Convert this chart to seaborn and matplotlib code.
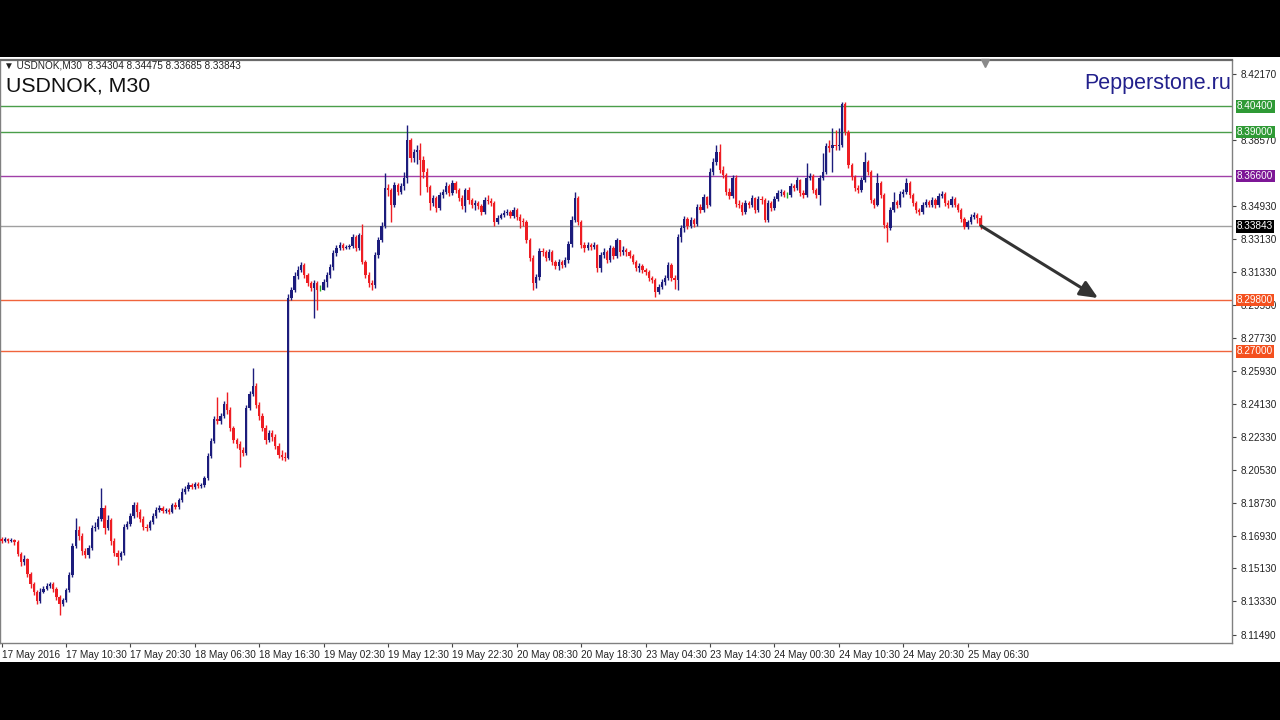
# USDNOK M30 candlestick chart, MetaTrader style
import numpy as np
import pandas as pd
import matplotlib.pyplot as plt
import seaborn as sns
from matplotlib.patches import Rectangle

# --- data ---
header = "\u25bc USDNOK,M30  8.34304 8.34475 8.33685 8.33843"
symbol = "USDNOK, M30"
brand = "Pepperstone.ru"

first_open = 8.1673
close = [
    8.1663, 8.1674, 8.1663, 8.1668, 8.1657, 8.1591, 8.1548, 8.1564, 8.1482, 8.1427,
    8.1384, 8.1335, 8.1384, 8.1400, 8.1416, 8.1427, 8.1400, 8.1357, 8.1318, 8.1340,
    8.1395, 8.1477, 8.1635, 8.1723, 8.1690, 8.1608, 8.1586, 8.1624, 8.1734, 8.1739,
    8.1783, 8.1843, 8.1734, 8.1778, 8.1663, 8.1597, 8.1575, 8.1597, 8.1739, 8.1756,
    8.1799, 8.1860, 8.1821, 8.1783, 8.1739, 8.1734, 8.1767, 8.1799, 8.1832, 8.1843,
    8.1827, 8.1832, 8.1821, 8.1860, 8.1849, 8.1887, 8.1931, 8.1947, 8.1969, 8.1958,
    8.1974, 8.1963, 8.1969, 8.2007, 8.2127, 8.2210, 8.2330, 8.2320, 8.2346, 8.2412,
    8.2379, 8.2281, 8.2215, 8.2193, 8.2160, 8.2144, 8.2390, 8.2467, 8.2510, 8.2407,
    8.2346, 8.2281, 8.2215, 8.2254, 8.2232, 8.2182, 8.2133, 8.2122, 8.2116, 8.2992,
    8.3036, 8.3112, 8.3145, 8.3172, 8.3117, 8.3074, 8.3046, 8.3074, 8.3036, 8.3036,
    8.3079, 8.3117, 8.3161, 8.3238, 8.3265, 8.3282, 8.3265, 8.3271, 8.3276, 8.3326,
    8.3265, 8.3336, 8.3189, 8.3117, 8.3074, 8.3063, 8.3227, 8.3309, 8.3386, 8.3594,
    8.3583, 8.3501, 8.3610, 8.3572, 8.3605, 8.3648, 8.3856, 8.3758, 8.3791, 8.3802,
    8.3747, 8.3681, 8.3599, 8.3512, 8.3539, 8.3484, 8.3555, 8.3572, 8.3605, 8.3566,
    8.3621, 8.3583, 8.3539, 8.3495, 8.3583, 8.3528, 8.3501, 8.3512, 8.3495, 8.3462,
    8.3528, 8.3523, 8.3512, 8.3408, 8.3430, 8.3446, 8.3457, 8.3462, 8.3440, 8.3473,
    8.3435, 8.3413, 8.3408, 8.3309, 8.3211, 8.3074, 8.3107, 8.3249, 8.3244, 8.3211,
    8.3244, 8.3189, 8.3167, 8.3189, 8.3172, 8.3200, 8.3287, 8.3419, 8.3539, 8.3408,
    8.3282, 8.3265, 8.3282, 8.3271, 8.3282, 8.3156, 8.3227, 8.3244, 8.3200, 8.3265,
    8.3222, 8.3309, 8.3244, 8.3255, 8.3244, 8.3222, 8.3189, 8.3156, 8.3167, 8.3145,
    8.3134, 8.3101, 8.3090, 8.3025, 8.3052, 8.3079, 8.3101, 8.3172, 8.3101, 8.3090,
    8.3326, 8.3375, 8.3424, 8.3386, 8.3419, 8.3397, 8.3490, 8.3473, 8.3544, 8.3501,
    8.3681, 8.3736, 8.3791, 8.3692, 8.3665, 8.3572, 8.3550, 8.3648, 8.3506, 8.3501,
    8.3462, 8.3512, 8.3501, 8.3539, 8.3473, 8.3534, 8.3528, 8.3419, 8.3512, 8.3484,
    8.3534, 8.3566, 8.3572, 8.3555, 8.3555, 8.3605, 8.3594, 8.3637, 8.3566, 8.3555,
    8.3648, 8.3659, 8.3583, 8.3555, 8.3648, 8.3681, 8.3823, 8.3812, 8.3829, 8.3823,
    8.3829, 8.4053, 8.3900, 8.3719, 8.3654, 8.3594, 8.3583, 8.3637, 8.3736, 8.3681,
    8.3528, 8.3501, 8.3621, 8.3555, 8.3391, 8.3375, 8.3473, 8.3517, 8.3501, 8.3561,
    8.3572, 8.3621, 8.3555, 8.3512, 8.3473, 8.3462, 8.3501, 8.3517, 8.3501, 8.3528,
    8.3501, 8.3550, 8.3561, 8.3512, 8.3501, 8.3534, 8.3501, 8.3473, 8.3424, 8.3380,
    8.3408, 8.3435, 8.3446, 8.34304, 8.33843,
]
high = [
    8.1685, 8.1685, 8.1679, 8.1679, 8.1674, 8.1668, 8.1602, 8.1586, 8.1569, 8.1493,
    8.1438, 8.1395, 8.1405, 8.1416, 8.1433, 8.1438, 8.1438, 8.1411, 8.1367, 8.1351,
    8.1405, 8.1493, 8.1652, 8.1788, 8.1745, 8.1707, 8.1624, 8.1641, 8.1750, 8.1767,
    8.1799, 8.1952, 8.1860, 8.1805, 8.1788, 8.1679, 8.1613, 8.1608, 8.1756, 8.1773,
    8.1816, 8.1876, 8.1876, 8.1838, 8.1799, 8.1756, 8.1778, 8.1816, 8.1849, 8.1860,
    8.1854, 8.1843, 8.1843, 8.1871, 8.1876, 8.1898, 8.1952, 8.1963, 8.1985, 8.1980,
    8.1985, 8.1985, 8.1980, 8.2018, 8.2144, 8.2226, 8.2346, 8.2451, 8.2363, 8.2429,
    8.2478, 8.2396, 8.2292, 8.2226, 8.2210, 8.2177, 8.2407, 8.2483, 8.2609, 8.2527,
    8.2423, 8.2363, 8.2297, 8.2270, 8.2270, 8.2248, 8.2199, 8.2160, 8.2149, 8.3014,
    8.3052, 8.3134, 8.3167, 8.3189, 8.3183, 8.3128, 8.3085, 8.3090, 8.3085, 8.3063,
    8.3096, 8.3134, 8.3178, 8.3255, 8.3282, 8.3298, 8.3293, 8.3282, 8.3287, 8.3342,
    8.3336, 8.3347, 8.3397, 8.3200, 8.3134, 8.3090, 8.3244, 8.3326, 8.3408, 8.3676,
    8.3616, 8.3594, 8.3626, 8.3621, 8.3621, 8.3681, 8.3938, 8.3867, 8.3807, 8.3829,
    8.3840, 8.3769, 8.3703, 8.3610, 8.3555, 8.3550, 8.3572, 8.3588, 8.3626, 8.3616,
    8.3637, 8.3632, 8.3594, 8.3555, 8.3594, 8.3599, 8.3539, 8.3528, 8.3523, 8.3506,
    8.3544, 8.3555, 8.3539, 8.3523, 8.3446, 8.3457, 8.3473, 8.3479, 8.3473, 8.3490,
    8.3484, 8.3451, 8.3430, 8.3419, 8.3320, 8.3227, 8.3123, 8.3265, 8.3265, 8.3255,
    8.3260, 8.3255, 8.3200, 8.3205, 8.3200, 8.3216, 8.3304, 8.3441, 8.3572, 8.3550,
    8.3419, 8.3298, 8.3298, 8.3293, 8.3298, 8.3287, 8.3244, 8.3265, 8.3255, 8.3282,
    8.3276, 8.3320, 8.3309, 8.3276, 8.3265, 8.3255, 8.3233, 8.3200, 8.3183, 8.3178,
    8.3156, 8.3145, 8.3112, 8.3101, 8.3068, 8.3096, 8.3117, 8.3189, 8.3183, 8.3117,
    8.3342, 8.3391, 8.3441, 8.3435, 8.3435, 8.3430, 8.3506, 8.3506, 8.3561, 8.3550,
    8.3703, 8.3758, 8.3829, 8.3834, 8.3714, 8.3676, 8.3594, 8.3665, 8.3665, 8.3528,
    8.3517, 8.3528, 8.3523, 8.3555, 8.3544, 8.3550, 8.3550, 8.3539, 8.3528, 8.3523,
    8.3550, 8.3583, 8.3588, 8.3583, 8.3572, 8.3621, 8.3616, 8.3654, 8.3643, 8.3583,
    8.3730, 8.3676, 8.3670, 8.3594, 8.3665, 8.3785, 8.3840, 8.3856, 8.3922, 8.3911,
    8.3922, 8.4064, 8.4064, 8.3911, 8.3730, 8.3665, 8.3610, 8.3654, 8.3791, 8.3747,
    8.3692, 8.3539, 8.3676, 8.3632, 8.3566, 8.3408, 8.3490, 8.3572, 8.3528, 8.3577,
    8.3588, 8.3648, 8.3632, 8.3566, 8.3523, 8.3484, 8.3517, 8.3534, 8.3528, 8.3544,
    8.3539, 8.3566, 8.3577, 8.3572, 8.3528, 8.3550, 8.3544, 8.3512, 8.3484, 8.3435,
    8.3419, 8.3451, 8.3462, 8.3457, 8.34475,
]
low = [
    8.1652, 8.1657, 8.1652, 8.1657, 8.1641, 8.1580, 8.1526, 8.1531, 8.1466, 8.1405,
    8.1367, 8.1318, 8.1324, 8.1378, 8.1395, 8.1405, 8.1384, 8.1340, 8.1258, 8.1307,
    8.1329, 8.1384, 8.1466, 8.1624, 8.1668, 8.1586, 8.1569, 8.1569, 8.1613, 8.1718,
    8.1729, 8.1773, 8.1701, 8.1723, 8.1641, 8.1580, 8.1531, 8.1559, 8.1586, 8.1729,
    8.1745, 8.1788, 8.1794, 8.1767, 8.1723, 8.1718, 8.1723, 8.1756, 8.1788, 8.1821,
    8.1816, 8.1816, 8.1810, 8.1816, 8.1838, 8.1838, 8.1876, 8.1920, 8.1937, 8.1947,
    8.1947, 8.1952, 8.1952, 8.1958, 8.1996, 8.2116, 8.2199, 8.2303, 8.2303, 8.2335,
    8.2357, 8.2265, 8.2199, 8.2171, 8.2068, 8.2127, 8.2133, 8.2379, 8.2456, 8.2390,
    8.2325, 8.2265, 8.2193, 8.2204, 8.2210, 8.2166, 8.2116, 8.2106, 8.2100, 8.2111,
    8.2981, 8.3025, 8.3096, 8.3134, 8.3101, 8.3057, 8.3030, 8.2883, 8.2926, 8.3030,
    8.3036, 8.3052, 8.3101, 8.3145, 8.3222, 8.3255, 8.3255, 8.3260, 8.3260, 8.3265,
    8.3249, 8.3255, 8.3178, 8.3101, 8.3052, 8.3036, 8.3046, 8.3211, 8.3298, 8.3375,
    8.3550, 8.3408, 8.3490, 8.3555, 8.3561, 8.3583, 8.3621, 8.3736, 8.3736, 8.3725,
    8.3555, 8.3648, 8.3572, 8.3473, 8.3495, 8.3462, 8.3473, 8.3539, 8.3561, 8.3550,
    8.3555, 8.3566, 8.3523, 8.3479, 8.3462, 8.3506, 8.3484, 8.3473, 8.3479, 8.3446,
    8.3451, 8.3506, 8.3495, 8.3386, 8.3397, 8.3424, 8.3435, 8.3446, 8.3430, 8.3430,
    8.3419, 8.3375, 8.3386, 8.3293, 8.3194, 8.3036, 8.3046, 8.3090, 8.3222, 8.3194,
    8.3200, 8.3172, 8.3150, 8.3145, 8.3156, 8.3161, 8.3183, 8.3271, 8.3408, 8.3391,
    8.3265, 8.3244, 8.3255, 8.3255, 8.3260, 8.3134, 8.3134, 8.3211, 8.3183, 8.3189,
    8.3205, 8.3211, 8.3222, 8.3227, 8.3222, 8.3211, 8.3178, 8.3139, 8.3134, 8.3128,
    8.3117, 8.3085, 8.3074, 8.2997, 8.3014, 8.3041, 8.3063, 8.3090, 8.3085, 8.3041,
    8.3036, 8.3298, 8.3353, 8.3369, 8.3375, 8.3380, 8.3386, 8.3457, 8.3462, 8.3484,
    8.3495, 8.3665, 8.3719, 8.3676, 8.3648, 8.3555, 8.3534, 8.3539, 8.3490, 8.3484,
    8.3446, 8.3451, 8.3484, 8.3490, 8.3457, 8.3462, 8.3506, 8.3408, 8.3408, 8.3468,
    8.3473, 8.3523, 8.3550, 8.3544, 8.3539, 8.3544, 8.3577, 8.3583, 8.3550, 8.3539,
    8.3544, 8.3637, 8.3566, 8.3539, 8.3501, 8.3637, 8.3670, 8.3791, 8.3681, 8.3802,
    8.3802, 8.3818, 8.3883, 8.3703, 8.3637, 8.3577, 8.3566, 8.3572, 8.3626, 8.3665,
    8.3512, 8.3484, 8.3495, 8.3539, 8.3375, 8.3298, 8.3364, 8.3462, 8.3484, 8.3490,
    8.3544, 8.3561, 8.3539, 8.3495, 8.3457, 8.3446, 8.3451, 8.3490, 8.3490, 8.3490,
    8.3484, 8.3490, 8.3539, 8.3495, 8.3484, 8.3490, 8.3490, 8.3462, 8.3408, 8.3369,
    8.3369, 8.3397, 8.3424, 8.3402, 8.33685,
]

time_labels = ["17 May 2016", "17 May 10:30", "17 May 20:30", "18 May 06:30",
               "18 May 16:30", "19 May 02:30", "19 May 12:30", "19 May 22:30",
               "20 May 08:30", "20 May 18:30", "23 May 04:30", "23 May 14:30",
               "24 May 00:30", "24 May 10:30", "24 May 20:30", "25 May 06:30"]
label_bars = [0, 20, 40, 60, 80, 100, 120, 140, 160, 180, 200, 220, 240, 260, 280, 300]

price_ticks = [8.42170, 8.38570, 8.34930, 8.33130, 8.31330, 8.29530, 8.27730,
               8.25930, 8.24130, 8.22330, 8.20530, 8.18730, 8.16930, 8.15130,
               8.13330, 8.11490]

levels = [8.40400, 8.39000, 8.36600, 8.29800, 8.27000]
level_line_colors = ["#4a9e4a", "#4a9e4a", "#a040a8", "#f0643c", "#f0643c"]
level_box_colors = ["#2f9a35", "#2f9a35", "#7d1696", "#f4501e", "#f4501e"]
last_price = 8.33843

arrow_start = (304.2, 8.3386)
arrow_end = (340.5, 8.2992)

# --- style ---
sns.set_theme(style="white")
plt.rcParams['font.family'] = ['Liberation Sans', 'DejaVu Sans']

df = pd.DataFrame({"close": close, "high": high, "low": low})
df["open"] = [first_open] + close[:-1]
df["bar"] = np.arange(len(df))

bull, bear, doji = "#1c1c7c", "#ee1d23", "#22aa22"
colors = np.where(df["close"] > df["open"], bull,
                  np.where(df["close"] < df["open"], bear, doji))

fig = plt.figure(figsize=(12.8, 7.2), dpi=100, facecolor="black")
fig.add_artist(Rectangle((0, 58 / 720), 1, 605 / 720, transform=fig.transFigure,
                         facecolor="white", edgecolor="none", zorder=-1))
ax = fig.add_axes([0, 77 / 720, 1232 / 1280, 583 / 720])
ax.set_facecolor("white")

# horizontal levels
for lv, lc, bc in zip(levels, level_line_colors, level_box_colors):
    ax.axhline(lv, color=lc, lw=1, zorder=1)
    ax.text(1.004, lv, f"{lv:.5f}", transform=ax.get_yaxis_transform(),
            ha="left", va="center", fontsize=7.2, color="white", zorder=10,
            clip_on=False, bbox=dict(boxstyle="square,pad=0.12", fc=bc, ec="none"))
ax.axhline(last_price, color="#a0a0a0", lw=1, zorder=1)
ax.text(1.004, last_price, f"{last_price:.5f}", transform=ax.get_yaxis_transform(),
        ha="left", va="center", fontsize=7.2, color="white", zorder=10,
        clip_on=False, bbox=dict(boxstyle="square,pad=0.12", fc="black", ec="none"))

# candles
ax.vlines(df["bar"], df["low"], df["high"], colors=colors, lw=1, zorder=3)
body = (df["close"] - df["open"]).abs().clip(lower=0.00025)
ax.bar(df["bar"], body, bottom=np.minimum(df["open"], df["close"]), width=0.72,
       color=colors, linewidth=0, zorder=4)

# forecast arrow
ax.annotate("", xy=arrow_end, xytext=arrow_start, zorder=6,
            arrowprops=dict(arrowstyle="-|>,head_length=0.9,head_width=0.4",
                            color="#333333", lw=2.2, shrinkA=0, shrinkB=0))

ax.set_xlim(-0.5, 382.1)
ax.set_ylim(8.1105, 8.4294)

ax.yaxis.tick_right()
ax.set_yticks(price_ticks)
ax.set_yticklabels([f"{p:.5f}" for p in price_ticks])
ax.set_xticks(label_bars)
ax.set_xticklabels(time_labels)
for t in ax.get_xticklabels():
    t.set_ha("left")
ax.tick_params(axis="y", right=True, left=False, direction="out", length=3,
               width=0.8, color="#444444", pad=3, labelsize=7.2, labelcolor="#222222")
ax.tick_params(axis="x", bottom=True, direction="out", length=3, width=0.8,
               color="#444444", pad=2, labelsize=7.2, labelcolor="#222222")

for side in ["left", "right", "bottom"]:
    ax.spines[side].set_color("#808080")
    ax.spines[side].set_linewidth(1)
ax.spines["top"].set_color("#6a6a6a")
ax.spines["top"].set_linewidth(1.6)

# chart shift marker
ax.plot(0.7995, 0.995, marker="v", ms=6, color="#8a8a8a", transform=ax.transAxes,
        clip_on=False, zorder=10)

# texts
fig.text(4 / 1280, 1 - 66 / 720, header, fontsize=7.2, color="#222222", va="center")
fig.text(6 / 1280, 1 - 86 / 720, symbol, fontsize=15.3, color="#111111", va="center")
fig.text(1231 / 1280, 1 - 83 / 720, brand, fontsize=15.5, color="#22208c",
         va="center", ha="right")

fig.savefig("out.png", dpi=100, facecolor=fig.get_facecolor())
